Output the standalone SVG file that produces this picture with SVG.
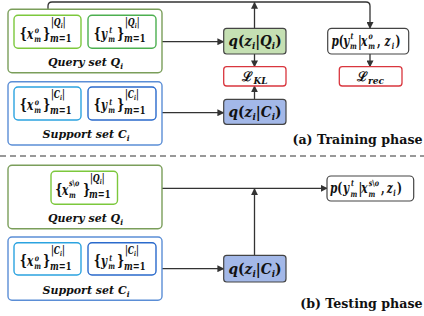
<svg xmlns="http://www.w3.org/2000/svg" width="424" height="316" viewBox="0 0 424 316">
<defs>
<marker id="ah" viewBox="0 0 10 10" refX="9" refY="5" markerWidth="7" markerHeight="7" markerUnits="userSpaceOnUse" orient="auto"><path d="M0,0 L10,5 L0,10 z" fill="#333"/></marker>
<style>
text{font-family:'DejaVu Serif',serif;fill:#111;font-weight:bold}
.m{font-style:italic}
.u{font-style:normal}
.mn{font-style:italic;font-size:14px}
.s{font-style:italic;font-size:8.5px}
.t{font-size:12.6px;text-anchor:end}
.lbl{font-style:italic;font-size:11px;text-anchor:middle}
.outer{fill:#fff;stroke-width:1.4}
.inner{fill:#fff;stroke-width:1.4}
.ca{fill:none;stroke:#333;stroke-width:1.3;marker-end:url(#ah)}
.node{stroke:#444;stroke-width:1.2}
.red{fill:#fff;stroke:#d9363e;stroke-width:1.3}
</style>
</defs>
<rect width="424" height="316" fill="#fff"/>

<g id="connectors">
<path class="ca" d="M48,15.3 V6 Q48,2 52,2 H366 Q370,2 370,6 V28.3"/>
<path class="ca" d="M254.5,28.3 V2.5"/>
<path class="ca" d="M162,41.7 H223.7"/>
<path class="ca" d="M254.5,54 V66.7"/>
<path class="ca" d="M254.5,99.3 V86"/>
<path class="ca" d="M162,112.7 H223.7"/>
<path class="ca" d="M370,54 V66.7"/>
<path class="ca" d="M117.5,188.3 H327"/>
<path class="ca" d="M254.5,255.3 V188.8"/>
<path class="ca" d="M162,268.7 H223.7"/>
<line x1="0" y1="156" x2="424" y2="156" stroke="#777" stroke-width="1.5" stroke-dasharray="6,4"/>
</g>

<g id="query-train">
<rect class="outer" x="8" y="9.3" width="154" height="63.4" rx="4" stroke="#7a9e5a"/>
<text class="lbl" x="85.5" y="66">Query set Q<tspan font-size="7.5" dy="3">i</tspan></text>
</g>
<g id="qx-train" transform="translate(14,15.3)">
<rect class="inner" x="0" y="0" width="67" height="33" rx="4" stroke="#7cc83c"/>
<text class="mn" transform="scale(0.75,1)"><tspan class="u" font-size="15" x="7.6" y="22.5">{</tspan><tspan x="17.3" y="23.5">x</tspan><tspan class="s" x="27.6" y="18">o</tspan><tspan class="s" x="26.9" y="26.5">m</tspan><tspan class="u" font-size="15" x="38.7" y="22.5">}</tspan><tspan font-size="10.5" x="49.3" y="11">|Q</tspan><tspan font-size="7" y="13">i</tspan><tspan font-size="10.5" y="11">|</tspan><tspan font-size="11" x="48" y="27">m<tspan class="u">=1</tspan></tspan></text>
</g>
<g id="qy-train" transform="translate(88,15.3)">
<rect class="inner" x="0" y="0" width="68" height="33" rx="4" stroke="#4caf50"/>
<text class="mn" transform="scale(0.75,1)"><tspan class="u" font-size="15" x="7.6" y="22.5">{</tspan><tspan x="17.3" y="23.5">y</tspan><tspan class="s" x="28.3" y="18">t</tspan><tspan class="s" x="26.9" y="26.5">m</tspan><tspan class="u" font-size="15" x="38.7" y="22.5">}</tspan><tspan font-size="10.5" x="49.3" y="11">|Q</tspan><tspan font-size="7" y="13">i</tspan><tspan font-size="10.5" y="11">|</tspan><tspan font-size="11" x="48" y="27">m<tspan class="u">=1</tspan></tspan></text>
</g>

<g id="support-train">
<rect class="outer" x="8" y="81.7" width="154" height="63.3" rx="4" stroke="#5b8ed6"/>
<text class="lbl" x="86" y="138.3">Support set C<tspan font-size="7.5" dy="3">i</tspan></text>
</g>
<g id="cx-train" transform="translate(14,87)">
<rect class="inner" x="0" y="0" width="67" height="33" rx="4" stroke="#2ba3e0"/>
<text class="mn" transform="scale(0.75,1)"><tspan class="u" font-size="15" x="7.6" y="22.5">{</tspan><tspan x="17.3" y="23.5">x</tspan><tspan class="s" x="27.6" y="18">o</tspan><tspan class="s" x="26.9" y="26.5">m</tspan><tspan class="u" font-size="15" x="38.7" y="22.5">}</tspan><tspan font-size="10.5" x="49.3" y="11">|C</tspan><tspan font-size="7" y="13">i</tspan><tspan font-size="10.5" y="11">|</tspan><tspan font-size="11" x="48" y="27">m<tspan class="u">=1</tspan></tspan></text>
</g>
<g id="cy-train" transform="translate(88,87)">
<rect class="inner" x="0" y="0" width="68" height="33" rx="4" stroke="#2a6acc"/>
<text class="mn" transform="scale(0.75,1)"><tspan class="u" font-size="15" x="7.6" y="22.5">{</tspan><tspan x="17.3" y="23.5">y</tspan><tspan class="s" x="28.3" y="18">t</tspan><tspan class="s" x="26.9" y="26.5">m</tspan><tspan class="u" font-size="15" x="38.7" y="22.5">}</tspan><tspan font-size="10.5" x="49.3" y="11">|C</tspan><tspan font-size="7" y="13">i</tspan><tspan font-size="10.5" y="11">|</tspan><tspan font-size="11" x="48" y="27">m<tspan class="u">=1</tspan></tspan></text>
</g>

<g id="qzQ">
<rect class="node" x="223.7" y="28.3" width="62.3" height="25.7" rx="3" fill="#c5e0b3"/>
<text class="m" font-size="14" x="255" y="46" text-anchor="middle" textLength="53" lengthAdjust="spacingAndGlyphs">q<tspan class="u">(</tspan>z<tspan font-size="9" dy="3">i</tspan><tspan class="u" dy="-3">|</tspan>Q<tspan font-size="9" dy="3">i</tspan><tspan class="u" dy="-3">)</tspan></text>
</g>
<g id="LKL">
<rect class="red" x="223.7" y="66.7" width="62.3" height="19.3" rx="3"/>
<text class="m" font-size="13" x="255" y="81" text-anchor="middle"><tspan class="u">ℒ</tspan><tspan font-size="9" dy="2.5">KL</tspan></text>
</g>
<g id="qzC">
<rect class="node" x="223.7" y="99.3" width="62.3" height="25" rx="3" fill="#a3b8e8"/>
<text class="m" font-size="14" x="255" y="117" text-anchor="middle" textLength="53" lengthAdjust="spacingAndGlyphs">q<tspan class="u">(</tspan>z<tspan font-size="9" dy="3">i</tspan><tspan class="u" dy="-3">|</tspan>C<tspan font-size="9" dy="3">i</tspan><tspan class="u" dy="-3">)</tspan></text>
</g>
<g id="p-train">
<rect class="node" x="327.7" y="28.3" width="81" height="25.7" rx="4" fill="#fff"/>
<text class="mn" transform="translate(331.5,46) scale(0.75,1)" x="0" y="0">p<tspan class="u">(</tspan><tspan x="15.6" y="0">y</tspan><tspan class="s" x="25.3" y="-7.5">t</tspan><tspan class="s" x="24.7" y="3">m</tspan><tspan class="u" x="35.3" y="0">|</tspan><tspan x="39.3" y="0">x</tspan><tspan class="s" x="49.3" y="-7.5">o</tspan><tspan class="s" x="49.1" y="3">m</tspan><tspan class="u" x="60.7" y="0">,</tspan><tspan x="70.7" y="0">z</tspan><tspan class="s" x="80.4" y="3">i</tspan><tspan class="u" x="85.3" y="0">)</tspan></text>
</g>
<g id="Lrec">
<rect class="red" x="339.3" y="66.7" width="62.7" height="19.3" rx="3"/>
<text class="m" font-size="13" x="370.6" y="81" text-anchor="middle"><tspan class="u">ℒ</tspan><tspan font-size="9" dy="2.5">rec</tspan></text>
</g>
<text class="t" x="422.5" y="144">(a) Training phase</text>

<g id="query-test">
<rect class="outer" x="8" y="165.3" width="154" height="63.4" rx="4" stroke="#7a9e5a"/>
<text class="lbl" x="85.5" y="221.5">Query set Q<tspan font-size="7.5" dy="3">i</tspan></text>
</g>
<g id="qx-test" transform="translate(51,171.3)">
<rect class="inner" x="0" y="0" width="66.5" height="33" rx="4" stroke="#7cc83c"/>
<text class="mn" transform="scale(0.75,1)"><tspan class="u" font-size="15" x="5.7" y="22.5">{</tspan><tspan x="14.7" y="23.5">x</tspan><tspan class="s" x="24" y="15">s<tspan class="u">\</tspan>o</tspan><tspan class="s" x="24" y="26.5">m</tspan><tspan class="u" font-size="15" x="42.7" y="22.5">}</tspan><tspan font-size="10.5" x="52" y="11">|Q</tspan><tspan font-size="7" y="13">i</tspan><tspan font-size="10.5" y="11">|</tspan><tspan font-size="11" x="50.7" y="27">m<tspan class="u">=1</tspan></tspan></text>
</g>

<g id="support-test">
<rect class="outer" x="8" y="237" width="154" height="63.3" rx="4" stroke="#5b8ed6"/>
<text class="lbl" x="86" y="293.7">Support set C<tspan font-size="7.5" dy="3">i</tspan></text>
</g>
<g id="cx-test" transform="translate(14,242.7)">
<rect class="inner" x="0" y="0" width="67" height="32.3" rx="4" stroke="#2ba3e0"/>
<text class="mn" transform="scale(0.75,1)"><tspan class="u" font-size="15" x="7.6" y="22.5">{</tspan><tspan x="17.3" y="23.5">x</tspan><tspan class="s" x="27.6" y="18">o</tspan><tspan class="s" x="26.9" y="26.5">m</tspan><tspan class="u" font-size="15" x="38.7" y="22.5">}</tspan><tspan font-size="10.5" x="49.3" y="11">|C</tspan><tspan font-size="7" y="13">i</tspan><tspan font-size="10.5" y="11">|</tspan><tspan font-size="11" x="48" y="27">m<tspan class="u">=1</tspan></tspan></text>
</g>
<g id="cy-test" transform="translate(88,242.7)">
<rect class="inner" x="0" y="0" width="68" height="32.3" rx="4" stroke="#2a6acc"/>
<text class="mn" transform="scale(0.75,1)"><tspan class="u" font-size="15" x="7.6" y="22.5">{</tspan><tspan x="17.3" y="23.5">y</tspan><tspan class="s" x="28.3" y="18">t</tspan><tspan class="s" x="26.9" y="26.5">m</tspan><tspan class="u" font-size="15" x="38.7" y="22.5">}</tspan><tspan font-size="10.5" x="49.3" y="11">|C</tspan><tspan font-size="7" y="13">i</tspan><tspan font-size="10.5" y="11">|</tspan><tspan font-size="11" x="48" y="27">m<tspan class="u">=1</tspan></tspan></text>
</g>

<g id="qzC-test">
<rect class="node" x="223.7" y="255.3" width="62.3" height="26.7" rx="3" fill="#a3b8e8"/>
<text class="m" font-size="14" x="255" y="274" text-anchor="middle" textLength="53" lengthAdjust="spacingAndGlyphs">q<tspan class="u">(</tspan>z<tspan font-size="9" dy="3">i</tspan><tspan class="u" dy="-3">|</tspan>C<tspan font-size="9" dy="3">i</tspan><tspan class="u" dy="-3">)</tspan></text>
</g>
<g id="p-test">
<rect class="node" x="327" y="176" width="86.7" height="25" rx="4" fill="#fff"/>
<text class="mn" transform="translate(330,193) scale(0.75,1)" x="0" y="0">p<tspan class="u">(</tspan><tspan x="17.3" y="0">y</tspan><tspan class="s" x="28" y="-7">t</tspan><tspan class="s" x="27.3" y="3.5">m</tspan><tspan class="u" x="38" y="0">|</tspan><tspan x="41.7" y="0">x</tspan><tspan class="s" x="51.7" y="-7.5">s<tspan class="u">\</tspan>o</tspan><tspan class="s" x="51.3" y="3.5">m</tspan><tspan class="u" x="68" y="0">,</tspan><tspan x="75.6" y="0">z</tspan><tspan class="s" x="84.4" y="3">i</tspan><tspan class="u" x="89.3" y="0">)</tspan></text>
</g>
<text class="t" x="422.5" y="308">(b) Testing phase</text>
</svg>
